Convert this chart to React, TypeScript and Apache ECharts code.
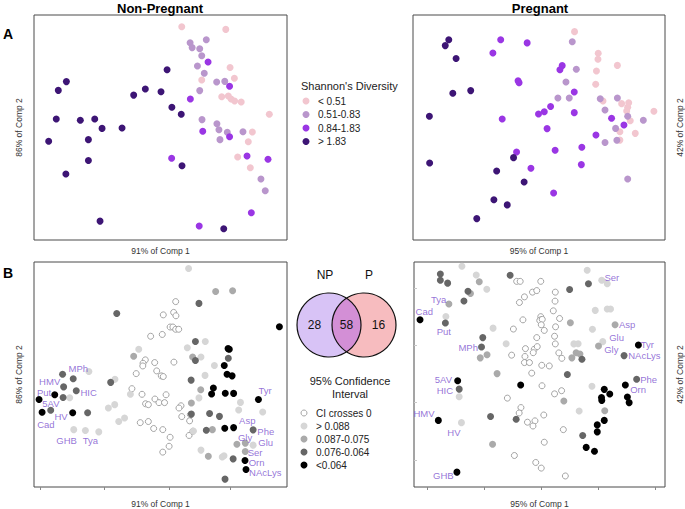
import React, { useEffect, useRef } from "react";
import * as echarts from "echarts";

const FONT = "'Liberation Sans', Arial, Helvetica, sans-serif";

// ---------- Panel A: Shannon's diversity, Non-Pregnant ----------
const npPink: number[][] = [
  [58.4, 94.8], [75.8, 93.6], [77.5, 76.7], [79.2, 71.9], [66.3, 71.1], [74.2, 63.7], [76.8, 64.0],
  [77.9, 62.7], [79.3, 61.8], [81.9, 61.3], [93.0, 55.9], [86.3, 48.0], [84.7, 43.7], [80.5, 36.9], [85.5, 32.1],
];
const npLilac: number[][] = [
  [68.1, 89.0], [61.7, 87.7], [62.5, 85.5], [65.5, 85.0], [66.3, 81.9], [64.6, 77.3], [67.3, 74.1],
  [72.2, 70.2], [75.4, 70.5], [65.5, 66.4], [66.4, 53.5], [72.3, 51.7], [73.1, 49.0], [76.4, 47.9],
  [82.6, 48.1], [73.5, 44.6], [89.7, 27.1], [91.4, 21.9],
];
const npViolet: number[][] = [
  [68.8, 79.1], [77.3, 68.3], [61.8, 62.7], [66.7, 48.3], [77.3, 45.9], [54.4, 36.3], [84.2, 37.3],
  [92.5, 35.9], [85.9, 12.1], [65.3, 6.2],
];
const npIndigo: number[][] = [
  [52.6, 75.7], [12.8, 70.4], [9.6, 66.5], [44.0, 67.1], [39.4, 64.4], [50.2, 65.9], [54.5, 59.0],
  [58.2, 55.9], [8.8, 53.8], [18.3, 53.2], [24.0, 53.8], [26.9, 49.6], [34.8, 49.8], [5.8, 43.9],
  [21.5, 44.6], [21.5, 35.3], [58.5, 33.0], [12.6, 29.3], [26.1, 8.4], [75.0, 5.0],
];

// ---------- Panel A: Shannon's diversity, Pregnant ----------
const pPink: number[][] = [
  [64.1, 92.6], [73.5, 83.0], [73.4, 80.3], [81.1, 77.6], [72.8, 75.1], [72.5, 69.2], [75.4, 61.8],
  [82.8, 60.6], [85.6, 61.0], [85.2, 59.0], [84.8, 57.3], [95.6, 57.2], [86.2, 53.0], [82.1, 48.1],
  [88.2, 47.4], [82.1, 44.4],
];
const pLilac: number[][] = [
  [63.2, 88.1], [64.8, 75.9], [60.7, 70.2], [57.5, 63.1], [62.0, 63.1], [74.3, 62.8], [81.1, 63.1],
  [76.2, 57.8], [85.2, 55.0], [91.4, 53.2], [80.4, 49.6], [76.2, 43.3], [80.9, 44.3], [85.2, 27.1],
];
const pViolet: number[][] = [
  [34.8, 89.0], [45.3, 87.6], [31.7, 83.1], [59.2, 77.5], [58.3, 75.7], [41.7, 70.8], [42.1, 69.9],
  [64.0, 65.8], [54.6, 59.3], [52.1, 57.0], [49.8, 56.0], [64.0, 56.6], [35.4, 53.8], [78.8, 54.1],
  [83.7, 51.1], [53.2, 49.5], [72.6, 46.7], [67.0, 41.2], [56.4, 39.9], [41.1, 39.1], [66.8, 33.5],
  [46.8, 31.9], [55.8, 20.9],
];
const pIndigo: number[][] = [
  [14.2, 89.0], [12.8, 86.4], [17.1, 80.7], [22.9, 66.4], [15.8, 65.2], [6.5, 55.0], [39.9, 36.6],
  [6.6, 34.2], [33.2, 30.7], [44.1, 25.8], [32.1, 17.9], [37.4, 15.6], [25.3, 9.5],
];

// ---------- Panel B: metabolites, Non-Pregnant ----------
const npOpen: number[][] = [
  [56.0, 82.4], [51.1, 76.5], [55.2, 77.6], [56.1, 76.1], [53.8, 71.1], [54.9, 71.1], [56.0, 70.1],
  [57.2, 70.1], [46.1, 67.0], [50.7, 67.8], [44.0, 56.5], [43.1, 55.0], [43.0, 53.8], [40.4, 50.4],
  [47.7, 55.3], [48.5, 51.6], [50.3, 49.4], [51.1, 49.1], [55.3, 55.5], [38.7, 43.7], [42.7, 41.2],
  [47.8, 39.1], [44.1, 37.0], [45.2, 36.6], [49.4, 37.5], [51.6, 37.5], [52.2, 41.0], [58.1, 36.1],
  [57.3, 35.1], [58.4, 31.3], [61.8, 32.2], [61.5, 29.4], [42.0, 28.6], [45.2, 29.1], [47.3, 26.0],
  [50.9, 25.5], [53.8, 22.1], [53.4, 18.1], [50.9, 15.5], [61.3, 22.9], [62.8, 24.8],
];
const npLight: number[][] = [
  [61.1, 97.1], [67.7, 64.7], [60.6, 61.9], [41.4, 61.2], [66.0, 57.8], [71.3, 54.0], [21.7, 51.3],
  [67.6, 49.6], [32.0, 47.9], [65.2, 39.6], [14.1, 39.7], [38.1, 41.2], [81.6, 37.6], [29.4, 35.1],
  [31.9, 36.6], [80.9, 34.2], [90.4, 33.3], [33.5, 29.1], [35.8, 30.7], [15.7, 25.5], [20.3, 25.1],
  [25.6, 24.5], [63.0, 24.9], [86.6, 18.6], [66.0, 16.4], [74.4, 13.3], [75.1, 13.9],
];
const npMid: number[][] = [
  [71.8, 86.9], [78.5, 87.2], [39.4, 58.1], [62.7, 57.8], [65.9, 43.2], [62.2, 37.3], [70.5, 25.5],
  [80.2, 19.0], [83.5, 19.5], [83.5, 15.8], [68.9, 13.7],
];
const npDark: number[][] = [
  [65.2, 81.6], [32.7, 77.1], [63.8, 64.7], [63.8, 56.2], [76.8, 57.2], [11.3, 50.1], [15.5, 48.1],
  [62.1, 47.5], [30.3, 46.5], [11.7, 44.5], [16.7, 42.8], [11.5, 39.8], [6.6, 34.1], [21.2, 33.0],
  [62.2, 32.4], [69.4, 32.7], [73.3, 31.4], [68.1, 25.2], [86.6, 25.4], [78.7, 12.5], [75.5, 3.5],
];
const npBlack: number[][] = [
  [97.0, 71.2], [76.7, 61.5], [77.2, 61.2], [75.2, 54.0], [76.3, 50.1], [78.3, 49.4], [70.9, 44.0],
  [70.2, 41.3], [75.6, 41.7], [78.9, 41.6], [8.2, 41.0], [2.0, 38.9], [88.7, 38.9], [3.2, 33.2],
  [15.3, 33.0], [75.4, 26.1], [78.9, 26.4], [83.4, 11.8], [83.8, 7.8],
];
const npNames: [number, number, string][] = [
  [17.5, 52.6, "MPh"], [6.2, 46.8, "HMV"], [4.0, 42.0, "Put"], [21.6, 41.9, "HIC"], [6.7, 37.1, "5AV"],
  [10.7, 31.3, "HV"], [4.7, 28.0, "Cad"], [12.9, 20.6, "GHB"], [22.3, 20.6, "Tya"], [91.3, 42.8, "Tyr"],
  [84.3, 29.6, "Asp"], [91.6, 24.8, "Phe"], [83.4, 21.9, "Gly"], [91.6, 19.9, "Glu"], [87.4, 15.4, "Ser"],
  [88.0, 11.0, "Orn"], [91.4, 6.5, "NAcLys"],
];

// ---------- Panel B: metabolites, Pregnant ----------
const pOpen: number[][] = [
  [40.9, 91.4], [42.3, 91.4], [50.5, 91.4], [47.2, 86.6], [48.9, 87.3], [56.3, 86.6], [44.0, 84.5],
  [42.0, 82.0], [56.2, 82.6], [55.5, 78.3], [50.5, 75.7], [50.5, 74.3], [50.1, 74.0], [51.1, 74.5],
  [58.0, 74.9], [43.4, 74.3], [39.6, 70.2], [50.7, 72.1], [51.9, 69.6], [56.4, 71.2], [48.9, 66.4],
  [56.0, 67.0], [56.3, 63.6], [44.4, 61.5], [47.9, 61.2], [49.1, 62.4], [47.5, 59.7], [57.7, 59.6],
  [38.9, 58.6], [44.2, 58.0], [58.9, 57.2], [44.0, 55.3], [46.0, 55.3], [50.9, 54.1], [53.9, 53.8],
  [46.9, 50.6], [51.0, 45.0], [56.0, 41.4], [58.8, 42.8], [37.2, 39.5], [42.6, 35.3], [41.9, 32.9],
  [51.7, 32.0], [45.2, 28.8], [48.2, 29.4], [47.4, 27.1], [59.5, 25.5], [51.9, 19.9], [40.0, 14.0],
  [48.5, 10.9], [50.7, 8.4], [60.3, 4.9],
];
const pLight: number[][] = [
  [19.1, 98.1], [24.8, 94.2], [29.0, 87.9], [69.0, 96.3], [74.8, 91.9], [77.0, 90.3], [72.2, 78.5],
  [77.0, 79.1], [78.3, 79.1], [71.1, 70.1], [75.2, 64.6], [65.4, 63.7], [63.7, 63.6], [31.5, 70.6],
  [36.7, 63.7], [18.0, 40.1], [18.9, 28.6], [65.8, 33.8], [70.9, 44.8], [12.7, 75.8],
];
const pMid: number[][] = [
  [26.0, 91.2], [22.5, 86.0], [13.9, 81.3], [29.1, 58.8], [26.4, 57.4], [33.1, 50.4], [62.3, 73.0],
  [80.1, 72.1], [73.5, 62.7], [64.6, 59.7], [66.1, 59.1], [62.9, 57.4], [59.7, 38.2], [76.0, 33.9],
  [31.3, 19.0],
];
const pDark: number[][] = [
  [10.5, 94.7], [10.5, 91.9], [13.4, 90.6], [21.5, 87.0], [19.9, 82.7], [12.5, 72.9], [38.3, 94.1],
  [62.0, 87.8], [69.5, 90.3], [27.4, 66.4], [26.9, 62.2], [66.9, 56.8], [83.7, 58.4], [61.1, 50.0],
  [88.7, 47.9], [18.0, 43.5], [30.5, 31.3], [40.7, 30.1], [67.2, 22.9],
];
const pBlack: number[][] = [
  [2.4, 74.3], [89.4, 63.1], [17.4, 47.2], [42.5, 45.3], [84.2, 45.3], [75.8, 43.4], [78.0, 41.3],
  [74.7, 39.8], [74.8, 38.5], [85.0, 40.0], [85.7, 37.5], [9.7, 29.6], [75.8, 29.6], [73.0, 27.6],
  [73.0, 24.5], [68.6, 17.6], [71.9, 15.9], [17.1, 6.6],
];
const pNames: [number, number, string][] = [
  [78.8, 93.2, "Ser"], [9.8, 83.3, "Tya"], [4.1, 77.9, "Cad"], [11.9, 69.0, "Put"], [84.9, 72.4, "Asp"],
  [80.7, 66.3, "Glu"], [78.6, 60.9, "Gly"], [93.0, 63.3, "Tyr"], [91.8, 58.3, "NAcLys"], [21.6, 62.2, "MPh"],
  [11.7, 47.9, "5AV"], [12.3, 42.9, "HIC"], [93.5, 47.9, "Phe"], [89.3, 43.2, "Orn"], [4.0, 32.7, "HMV"],
  [15.9, 24.3, "HV"], [11.7, 5.0, "GHB"],
];

// ---------- Legends / Venn ----------
const diversityBins = ["< 0.51", "0.51-0.83", "0.84-1.83", "> 1.83"];
const diversityColors = ["#F2C6CF", "#B996CC", "#9A36E4", "#3D1575"];
const ciBins = ["CI crosses 0", "> 0.088", "0.087-0.075", "0.076-0.064", "<0.064"];
const ciColors = ["#FFFFFF", "#D6D6D6", "#AAAAAA", "#666666", "#000000"];
const vennSets = ["NP", "P"];
const vennCounts = [28, 58, 16];

const bottomXTicksNP = [2.4, 27.7, 53.4, 77.5];
const bottomXTicksP = [5.2, 27.8, 50.8, 73.4, 96.0];
const bottomYTicksP = [12.0, 37.6, 63.0, 88.5];

const LABEL_PURPLE = "#7A50CE";

export default function App() {
  const ref = useRef<HTMLDivElement>(null);

  useEffect(() => {
    if (!ref.current) return;
    const chart = echarts.init(ref.current, null, { renderer: "svg" });

    // Venn geometry
    const cy = 325;
    const r = 32;
    const cL = 329;
    const cR = 364;
    const xm = (cL + cR) / 2;
    const dy = Math.sqrt(r * r - ((cR - cL) / 2) ** 2);
    const lensD = `M ${xm} ${cy - dy} A ${r} ${r} 0 0 1 ${xm} ${cy + dy} A ${r} ${r} 0 0 1 ${xm} ${cy - dy} Z`;
    echarts.graphic.registerShape("vennLens", echarts.graphic.extendPath(lensD, {}) as any);

    const dot = (data: number[][], idx: number, color: string, z = 2) => ({
      type: "scatter",
      xAxisIndex: idx,
      yAxisIndex: idx,
      data,
      symbolSize: 7,
      silent: true,
      z,
      itemStyle: { color, opacity: 1 },
    });
    const open = (data: number[][], idx: number) => ({
      type: "scatter",
      xAxisIndex: idx,
      yAxisIndex: idx,
      data,
      symbolSize: 6,
      silent: true,
      z: 1,
      itemStyle: { color: "#FFFFFF", borderColor: "#9A9A9A", borderWidth: 0.9, opacity: 1 },
    });
    const names = (rows: [number, number, string][], idx: number) => ({
      type: "scatter",
      xAxisIndex: idx,
      yAxisIndex: idx,
      symbolSize: 0,
      silent: true,
      z: 5,
      data: rows.map((d) => ({ value: [d[0], d[1]], name: d[2] })),
      label: {
        show: true,
        position: "inside",
        formatter: "{b}",
        color: LABEL_PURPLE,
        fontSize: 9.5,
        lineHeight: 10,
        fontFamily: FONT,
      },
    });

    const gridBase = { show: true, borderColor: "#4a4a4a", borderWidth: 1, backgroundColor: "#fff" };
    const nameStyle = { fontSize: 8.5, color: "#333", fontFamily: FONT };
    const xAx = (i: number, name: string, gap: number, ticks?: number[]) => ({
      gridIndex: i,
      type: "value",
      min: 0,
      max: 100,
      axisLine: { show: false },
      axisLabel: { show: false },
      splitLine: { show: false },
      axisTick: ticks
        ? { show: true, customValues: ticks, length: 3, lineStyle: { color: "#888", width: 1 } }
        : { show: false },
      name,
      nameLocation: "middle",
      nameGap: gap,
      nameTextStyle: nameStyle,
    });
    const yAx = (i: number, name: string, gap: number, pos: string, ticks?: number[]) => ({
      gridIndex: i,
      type: "value",
      min: 0,
      max: 100,
      position: pos,
      axisLine: { show: false },
      axisLabel: { show: false },
      splitLine: { show: false },
      axisTick: ticks
        ? { show: true, customValues: ticks, length: 3, lineStyle: { color: "#c8c8c8", width: 1 } }
        : { show: false },
      name,
      nameLocation: "middle",
      nameGap: gap,
      nameTextStyle: nameStyle,
    });

    const graphics: any[] = [
      { type: "text", x: 160, y: 8, style: { text: "Non-Pregnant", font: `bold 13px ${FONT}`, fill: "#000", textAlign: "center", textVerticalAlign: "middle" } },
      { type: "text", x: 540, y: 8, style: { text: "Pregnant", font: `bold 13px ${FONT}`, fill: "#000", textAlign: "center", textVerticalAlign: "middle" } },
      { type: "text", x: 3, y: 34, style: { text: "A", font: `bold 14px ${FONT}`, fill: "#000", textAlign: "left", textVerticalAlign: "middle" } },
      { type: "text", x: 3, y: 273, style: { text: "B", font: `bold 14px ${FONT}`, fill: "#000", textAlign: "left", textVerticalAlign: "middle" } },
      { type: "text", x: 301, y: 86, style: { text: "Shannon's Diversity", font: `11px ${FONT}`, fill: "#222", textAlign: "left", textVerticalAlign: "middle" } },
    ];
    diversityBins.forEach((lab, i) => {
      const y = 101 + i * 13.5;
      graphics.push({ type: "circle", shape: { cx: 306, cy: y, r: 3.5 }, style: { fill: diversityColors[i] } });
      graphics.push({ type: "text", x: 318, y, style: { text: lab, font: `10px ${FONT}`, fill: "#222", textAlign: "left", textVerticalAlign: "middle" } });
    });

    // Venn
    graphics.push({ type: "circle", shape: { cx: cL, cy, r }, style: { fill: "#D8C3F6", stroke: null } });
    graphics.push({ type: "circle", shape: { cx: cR, cy, r }, style: { fill: "#F7BCBF", stroke: null } });
    graphics.push({ type: "vennLens", style: { fill: "#D38FD6", stroke: null } });
    graphics.push({ type: "circle", shape: { cx: cL, cy, r }, style: { fill: "none", stroke: "#111", lineWidth: 1.2 } });
    graphics.push({ type: "circle", shape: { cx: cR, cy, r }, style: { fill: "none", stroke: "#111", lineWidth: 1.2 } });
    const numX = [(cL - r + (cR - r)) / 2, xm, (cL + r + (cR + r)) / 2];
    vennCounts.forEach((n, i) => {
      graphics.push({ type: "text", x: numX[i], y: cy, style: { text: String(n), font: `12px ${FONT}`, fill: "#111", textAlign: "center", textVerticalAlign: "middle" } });
    });
    graphics.push({ type: "text", x: cL - 4, y: 275, style: { text: vennSets[0], font: `12px ${FONT}`, fill: "#111", textAlign: "center", textVerticalAlign: "middle" } });
    graphics.push({ type: "text", x: cR + 5, y: 275, style: { text: vennSets[1], font: `12px ${FONT}`, fill: "#111", textAlign: "center", textVerticalAlign: "middle" } });
    graphics.push({ type: "text", x: 350, y: 381, style: { text: "95% Confidence", font: `11px ${FONT}`, fill: "#222", textAlign: "center", textVerticalAlign: "middle" } });
    graphics.push({ type: "text", x: 350, y: 394, style: { text: "Interval", font: `11px ${FONT}`, fill: "#222", textAlign: "center", textVerticalAlign: "middle" } });
    ciBins.forEach((lab, i) => {
      const y = 413 + i * 13;
      graphics.push({
        type: "circle",
        shape: { cx: 304, cy: y, r: i === 0 ? 3 : 3.5 },
        style: { fill: ciColors[i], stroke: i === 0 ? "#9A9A9A" : null, lineWidth: 0.9 },
      });
      graphics.push({ type: "text", x: 316, y, style: { text: lab, font: `10px ${FONT}`, fill: "#222", textAlign: "left", textVerticalAlign: "middle" } });
    });

    chart.setOption({
      animation: false,
      backgroundColor: "#fff",
      textStyle: { fontFamily: FONT },
      grid: [
        { ...gridBase, left: 34, top: 15, width: 253, height: 225 },
        { ...gridBase, left: 413, top: 15, width: 252, height: 225 },
        { ...gridBase, left: 34, top: 262, width: 253, height: 226 },
        { ...gridBase, left: 414, top: 262, width: 252, height: 226 },
      ],
      xAxis: [
        xAx(0, "91% of Comp 1", 6),
        xAx(1, "95% of Comp 1", 6),
        xAx(2, "91% of Comp 1", 12, bottomXTicksNP),
        xAx(3, "95% of Comp 1", 12, bottomXTicksP),
      ],
      yAxis: [
        yAx(0, "86% of Comp 2", 11, "left"),
        yAx(1, "42% of Comp 2", 10, "right"),
        yAx(2, "86% of Comp 2", 11, "left"),
        yAx(3, "42% of Comp 2", 10, "right", bottomYTicksP),
      ],
      series: [
        dot(npPink, 0, diversityColors[0]),
        dot(npLilac, 0, diversityColors[1]),
        dot(npViolet, 0, diversityColors[2]),
        dot(npIndigo, 0, diversityColors[3]),
        dot(pPink, 1, diversityColors[0]),
        dot(pLilac, 1, diversityColors[1]),
        dot(pViolet, 1, diversityColors[2]),
        dot(pIndigo, 1, diversityColors[3]),
        open(npOpen, 2),
        dot(npLight, 2, ciColors[1]),
        dot(npMid, 2, ciColors[2]),
        dot(npDark, 2, ciColors[3]),
        dot(npBlack, 2, ciColors[4]),
        names(npNames, 2),
        open(pOpen, 3),
        dot(pLight, 3, ciColors[1]),
        dot(pMid, 3, ciColors[2]),
        dot(pDark, 3, ciColors[3]),
        dot(pBlack, 3, ciColors[4]),
        names(pNames, 3),
      ],
      graphic: graphics,
    });

    return () => chart.dispose();
  }, []);

  return (
    <div
      ref={ref}
      style={{ position: "fixed", left: 0, top: 0, width: 685, height: 509, background: "#fff" }}
    />
  );
}
